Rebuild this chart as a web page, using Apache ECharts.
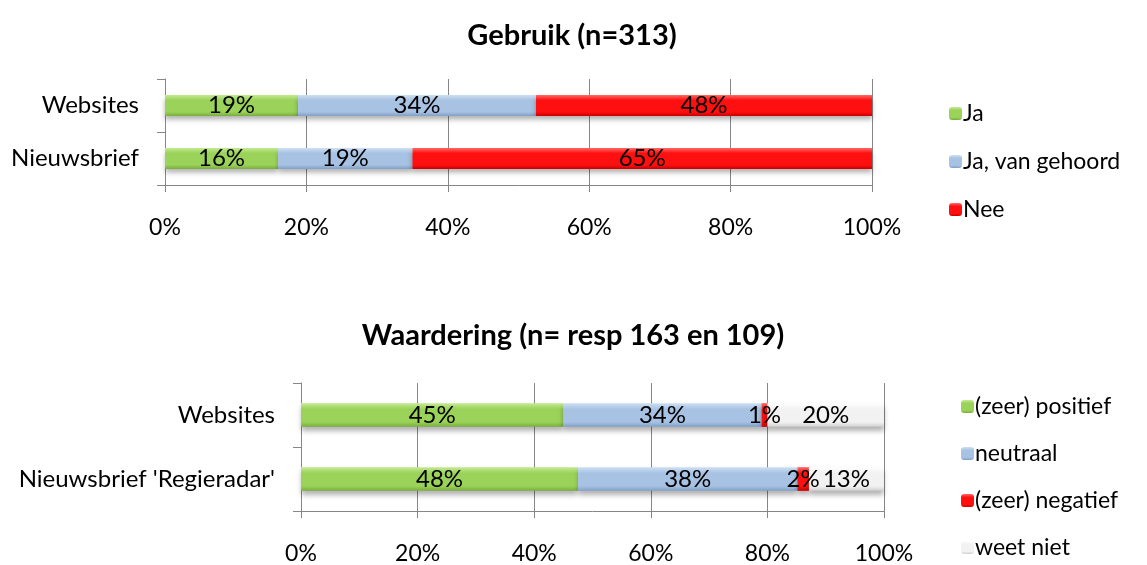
<!DOCTYPE html>
<html lang="nl">
<head>
    <meta charset="UTF-8">
    <title>Gebruik en waardering</title>
    <style>
        html, body { margin: 0; padding: 0; background: #fff; }
        #chart { width: 1147px; height: 565px; }
    </style>
</head>
<body>
    <div id="chart"></div>
    <script src="https://cdn.jsdelivr.net/npm/echarts@6.0.0/dist/echarts.min.js"></script>
    <script>
        // data - bovenste grafiek (Gebruik)
        const gebruikCats = ['Websites', 'Nieuwsbrief'];
        const gebruikNames = ['Ja', 'Ja, van gehoord', 'Nee'];
        const gebruikJa = [19, 16];
        const gebruikGehoord = [34, 19];
        const gebruikNee = [48, 65];

        // data - onderste grafiek (Waardering)
        const waardCats = ['Websites', "Nieuwsbrief 'Regieradar'"];
        const waardNames = ['(zeer) positief', 'neutraal', '(zeer) negatief', 'weet niet'];
        const waardPositief = [45, 48];
        const waardNeutraal = [34, 38];
        const waardNegatief = [1, 2];
        const waardWeetNiet = [20, 13];

        const font = 'Lato, "Noto Sans", sans-serif';

        function grad(top, mid, bottom) {
            return new echarts.graphic.LinearGradient(0, 0, 0, 1, [
                { offset: 0, color: top },
                { offset: 0.25, color: mid },
                { offset: 0.8, color: mid },
                { offset: 1, color: bottom }
            ]);
        }
        const colors = {
            green: grad('#c4ea92', '#9bd25a', '#78ac3a'),
            blue: grad('#cfe0f3', '#a7c2e2', '#7f9fc6'),
            red: grad('#ff6a6a', '#ff1010', '#c80000'),
            grey: grad('#ffffff', '#f2f2f2', '#cfcfcf')
        };

        // 100% gestapeld: normaliseren per categorie
        function pct(lists) {
            const totals = lists[0].map((_, i) => lists.reduce((s, l) => s + l[i], 0));
            return lists.map(l => l.map((v, i) => v / totals[i] * 100));
        }
        const gebruikRaw = [gebruikJa, gebruikGehoord, gebruikNee];
        const gebruikPct = pct(gebruikRaw);
        const waardRaw = [waardPositief, waardNeutraal, waardNegatief, waardWeetNiet];
        const waardPct = pct(waardRaw);

        function makeSeries(names, raw, norm, cols, idx, stack) {
            return names.map((name, s) => ({
                name: name,
                type: 'bar',
                stack: stack,
                xAxisIndex: idx,
                yAxisIndex: idx,
                barWidth: idx === 0 ? '40%' : '37%',
                data: norm[s],
                itemStyle: {
                    color: cols[s],
                    shadowColor: 'rgba(0,0,0,0.3)',
                    shadowBlur: 5,
                    shadowOffsetY: 4
                },
                label: {
                    show: true,
                    position: 'inside',
                    color: '#000',
                    fontFamily: font,
                    fontSize: 24,
                    formatter: p => raw[s][p.dataIndex] + '%'
                }
            }));
        }

        const axisGrey = '#868686';

        function xAxis(idx) {
            return {
                type: 'value',
                gridIndex: idx,
                min: 0,
                max: 100,
                interval: 20,
                axisLine: { show: true, lineStyle: { color: axisGrey } },
                axisTick: { show: true, length: 7, lineStyle: { color: axisGrey } },
                splitLine: { show: true, lineStyle: { color: axisGrey } },
                axisLabel: {
                    margin: 31,
                    color: '#000',
                    fontFamily: font,
                    fontSize: 23,
                    formatter: '{value}%'
                }
            };
        }
        function yAxis(idx, cats) {
            return {
                type: 'category',
                gridIndex: idx,
                data: cats,
                inverse: true,
                axisLine: { show: true, lineStyle: { color: axisGrey } },
                axisTick: { show: true, length: 8, lineStyle: { color: axisGrey } },
                axisLabel: {
                    margin: 26,
                    color: '#000',
                    fontFamily: font,
                    fontSize: 24
                }
            };
        }

        const chart = echarts.init(document.getElementById('chart'));
        chart.setOption({
            animation: false,
            title: [
                {
                    text: 'Gebruik (n=313)',
                    left: 567,
                    top: 16,
                    textAlign: 'center',
                    textStyle: { fontFamily: font, fontSize: 29, fontWeight: 'bold', color: '#000' }
                },
                {
                    text: 'Waardering (n= resp 163 en 109)',
                    left: 568,
                    top: 316,
                    textAlign: 'center',
                    textStyle: { fontFamily: font, fontSize: 29, fontWeight: 'bold', color: '#000' }
                }
            ],
            legend: [
                {
                    data: gebruikNames,
                    orient: 'vertical',
                    left: 944,
                    top: 97,
                    itemWidth: 13,
                    itemHeight: 13,
                    itemGap: 25,
                    itemStyle: { shadowBlur: 0, shadowOffsetY: 0 },
                    textStyle: { fontFamily: font, fontSize: 23, color: '#000', padding: [0, 0, 0, -4] }
                },
                {
                    data: waardNames,
                    orient: 'vertical',
                    left: 956,
                    top: 390,
                    itemWidth: 13,
                    itemHeight: 13,
                    itemGap: 24,
                    itemStyle: { shadowBlur: 0, shadowOffsetY: 0 },
                    textStyle: { fontFamily: font, fontSize: 23, color: '#000', padding: [0, 0, 0, -4] }
                }
            ],
            grid: [
                { left: 165, right: 275, top: 79, height: 106 },
                { left: 301, right: 263, top: 383, height: 130 }
            ],
            xAxis: [xAxis(0), xAxis(1)],
            yAxis: [yAxis(0, gebruikCats), yAxis(1, waardCats)],
            series: [
                ...makeSeries(gebruikNames, gebruikRaw, gebruikPct,
                    [colors.green, colors.blue, colors.red], 0, 'gebruik'),
                ...makeSeries(waardNames, waardRaw, waardPct,
                    [colors.green, colors.blue, colors.red, colors.grey], 1, 'waardering')
            ]
        });
    </script>
</body>
</html>
